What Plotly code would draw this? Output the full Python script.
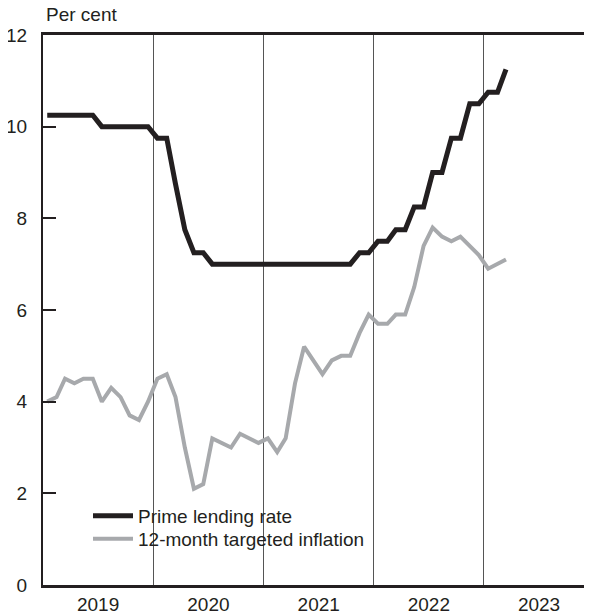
import pandas as pd
import plotly.graph_objects as go

# ---- data ----
months = pd.date_range("2019-01-01", periods=51, freq="MS") + pd.Timedelta(days=14)
prime_lending_rate = [
    10.25, 10.25, 10.25, 10.25, 10.25, 10.25, 10.0, 10.0, 10.0, 10.0, 10.0, 10.0,   # 2019
    9.75, 9.75, 8.75, 7.75, 7.25, 7.25, 7.0, 7.0, 7.0, 7.0, 7.0, 7.0,               # 2020
    7.0, 7.0, 7.0, 7.0, 7.0, 7.0, 7.0, 7.0, 7.0, 7.0, 7.25, 7.25,                   # 2021
    7.5, 7.5, 7.75, 7.75, 8.25, 8.25, 9.0, 9.0, 9.75, 9.75, 10.5, 10.5,             # 2022
    10.75, 10.75, 11.25,                                                            # 2023
]
targeted_inflation = [
    4.0, 4.1, 4.5, 4.4, 4.5, 4.5, 4.0, 4.3, 4.1, 3.7, 3.6, 4.0,    # 2019
    4.5, 4.6, 4.1, 3.0, 2.1, 2.2, 3.2, 3.1, 3.0, 3.3, 3.2, 3.1,    # 2020
    3.2, 2.9, 3.2, 4.4, 5.2, 4.9, 4.6, 4.9, 5.0, 5.0, 5.5, 5.9,    # 2021
    5.7, 5.7, 5.9, 5.9, 6.5, 7.4, 7.8, 7.6, 7.5, 7.6, 7.4, 7.2,    # 2022
    6.9, 7.0, 7.1,                                                 # 2023
]
y_ticks = [0, 2, 4, 6, 8, 10, 12]

INK = "#231f20"
GREY = "#a7a9ac"
FONT = "Liberation Sans, Arial, sans-serif"

fig = go.Figure()
fig.add_trace(go.Scatter(
    x=months, y=targeted_inflation, mode="lines", name="12-month targeted inflation",
    line=dict(color=GREY, width=4), legend="legend2",
))
fig.add_trace(go.Scatter(
    x=months, y=prime_lending_rate, mode="lines", name="Prime lending rate",
    line=dict(color=INK, width=5), legend="legend",
))

# page body adds an 8px offset; size the figure so the plot lands where the reference has it
OFF = 8
W, H = 592 - OFF, 613 - OFF
L, R, T, B = 43 - OFF, 0, 35 - OFF, 28
ph = H - T - B
pw = W - L - R

def py(screen_pix):
    return (H - B - (screen_pix - OFF)) / ph

def px(screen_pix):
    return (screen_pix - OFF - L) / pw

fig.update_layout(
    width=W, height=H,
    margin=dict(l=L, r=R, t=T, b=B, autoexpand=False),
    paper_bgcolor="white", plot_bgcolor="white",
    font=dict(family=FONT, size=19, color=INK),
    showlegend=True,
    legend=dict(x=px(88), y=py(497), xanchor="left", yanchor="top",
                bgcolor="rgba(0,0,0,0)", itemwidth=40, font=dict(size=19)),
    legend2=dict(x=px(88), y=py(520), xanchor="left", yanchor="top",
                 bgcolor="rgba(0,0,0,0)", itemwidth=40, font=dict(size=19)),
    xaxis=dict(
        type="date",
        range=["2019-01-01", "2023-12-25"],
        dtick="M12", tick0="2019-01-01",
        ticklabelmode="period", tickformat="%Y",
        ticks="", showgrid=True, gridcolor="#555555", gridwidth=1,
        showline=True, linecolor=INK, linewidth=2.5, mirror=True,
        zeroline=False, tickfont=dict(size=19, color=INK),
    ),
    yaxis=dict(
        range=[0, 12], tickvals=y_ticks,
        ticks="inside", ticklen=13, tickwidth=2, tickcolor=INK,
        showgrid=False, zeroline=False,
        showline=True, linecolor=INK, linewidth=2,
        tickfont=dict(size=19, color=INK), ticklabelstandoff=10,
    ),
    shapes=[dict(type="rect", xref="paper", yref="paper",
                 x0=px(90), x1=px(378), y0=py(559), y1=py(503),
                 fillcolor="white", line=dict(width=0), layer="between")],
    annotations=[dict(text="Per cent", xref="paper", yref="paper",
                      x=px(44), y=py(15), xanchor="left", yanchor="middle",
                      showarrow=False, font=dict(size=19, color=INK))],
)

fig.write_html("out.html")
